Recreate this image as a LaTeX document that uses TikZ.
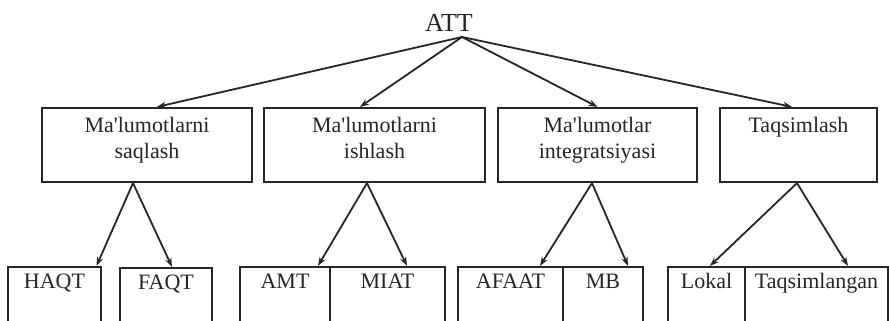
\documentclass[tikz,border=0pt]{standalone}
\usepackage{fontspec}
\setmainfont{Liberation Serif}[Ligatures=TeXOff]
\usetikzlibrary{arrows.meta}
\definecolor{ink}{HTML}{262626}
\begin{document}
\begin{tikzpicture}[x=1pt,y=-1pt,
  midbox/.style={draw=ink, line width=2.2pt, text=ink, align=center, inner sep=0pt,
    anchor=base, font=\fontsize{22}{26}\selectfont},
  twoline/.style={text height=50pt, text depth=24pt},
  oneline/.style={text height=24pt, text depth=50pt},
  leafbox/.style={draw=ink, line width=2.2pt, text=ink, inner sep=0pt, anchor=base,
    text height=21pt, text depth=42pt, font=\fontsize{22}{25}\selectfont},
  arr/.style={draw=ink, line width=1.8pt, -{Stealth[length=9pt,width=6.5pt]}}]
\useasboundingbox (0,0) rectangle (889,321);
\clip (0,0) rectangle (889,321);
\fill[white] (0,0) rectangle (889,321);
% root
\node[text=ink, font=\fontsize{26}{30}\selectfont, inner sep=0pt, anchor=base] (att) at (449,32) {ATT};
\coordinate (apex) at (462,37);
% middle level
\node[midbox, twoline, minimum width=210pt] (b1) at (147,158) {Ma'lumotlarni\\saqlash};
\node[midbox, twoline, minimum width=221pt] (b2) at (374.5,158) {Ma'lumotlarni\\ishlash};
\node[midbox, twoline, minimum width=199pt] (b3) at (597.5,158) {Ma'lumotlar\\integratsiyasi};
\node[midbox, oneline, minimum width=157pt] (b4) at (798.5,132) {Taqsimlash};
% leaves
\node[leafbox, minimum width=93pt] (l1) at (54.5,288) {HAQT};
\node[leafbox, minimum width=92pt] (l2) at (166,289) {FAQT};
\node[leafbox, minimum width=90pt] (l3) at (285,288) {AMT};
\node[leafbox, minimum width=115pt] (l4) at (387.5,288) {MIAT};
\node[leafbox, minimum width=105pt] (l5) at (510.5,288) {AFAAT};
\node[leafbox, minimum width=80pt] (l6) at (603,288) {MB};
\node[leafbox, minimum width=77pt] (l7) at (706.5,288) {Lokal};
\node[leafbox, minimum width=143pt] (l8) at (816.5,288) {Taqsimlangan};
% root arrows
\draw[arr] (apex) -- ([xshift=10pt]b1.north);
\draw[arr] (apex) -- ([xshift=-14.5pt]b2.north);
\draw[arr] (apex) -- (b3.north);
\draw[arr] (apex) -- ([xshift=-6.5pt]b4.north);
% lower arrows
\draw[arr] ([xshift=-14pt]b1.south) -- ([xshift=42pt]l1.north);
\draw[arr] ([xshift=-14pt]b1.south) -- ([xshift=6pt]l2.north);
\draw[arr] ([xshift=-7.5pt]b2.south) -- ([xshift=33pt]l3.north);
\draw[arr] ([xshift=-7.5pt]b2.south) -- ([xshift=19.5pt]l4.north);
\draw[arr] ([xshift=-5.5pt]b3.south) -- ([xshift=29.5pt]l5.north);
\draw[arr] ([xshift=-5.5pt]b3.south) -- ([xshift=25pt]l6.north);
\draw[arr] ([xshift=-1.5pt]b4.south) -- ([xshift=3.5pt]l7.north);
\draw[arr] ([xshift=-1.5pt]b4.south) -- ([xshift=31.5pt]l8.north);
\end{tikzpicture}
\end{document}
